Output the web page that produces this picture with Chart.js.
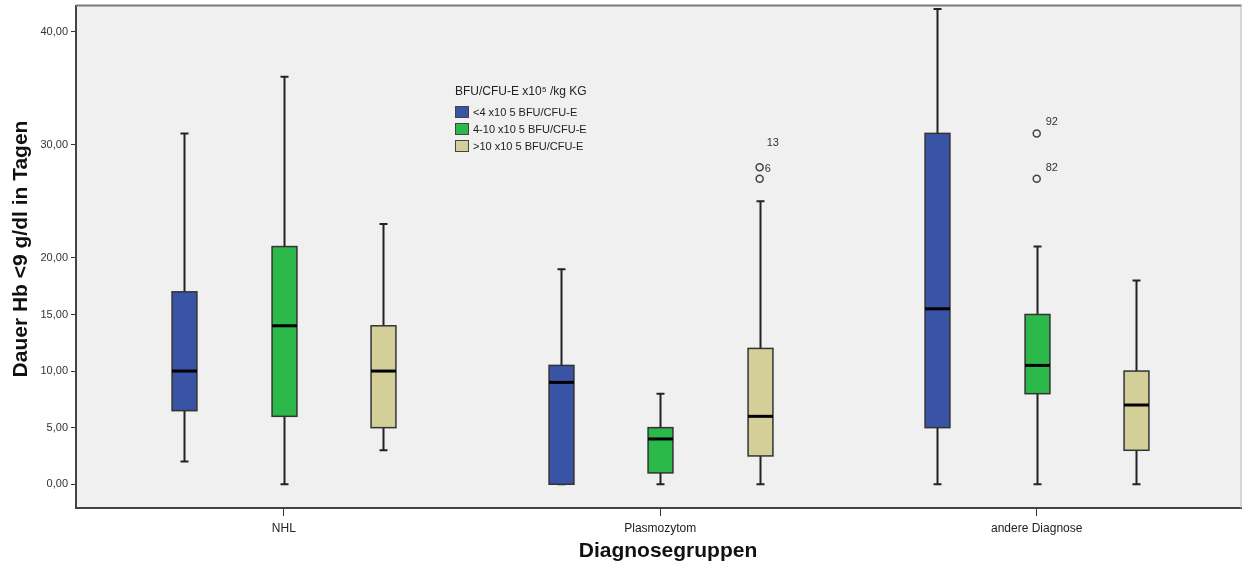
<!DOCTYPE html>
<html><head><meta charset="utf-8">
<script src="https://cdn.jsdelivr.net/npm/chart.js@4/dist/chart.umd.min.js"></script>
<style>html,body{margin:0;padding:0;background:#fff}#wrap{width:1247px;height:566px;position:relative}</style>
</head><body><div id="wrap"><canvas id="c" width="1247" height="566"></canvas></div>
<script>
// ---- data ----
const categories = ['NHL', 'Plasmozytom', 'andere Diagnose'];
const seriesNames = ['<4 x10 5 BFU/CFU-E', '4-10 x10 5 BFU/CFU-E', '>10 x10 5 BFU/CFU-E'];
const legendTitle = 'BFU/CFU-E x10\u2075 /kg KG';
const yTitle = 'Dauer Hb <9 g/dl in Tagen';
const xTitle = 'Diagnosegruppen';
const yTicks = [0, 5, 10, 15, 20, 30, 40];

const blueMin = [2, 0, 0];
const blueQ1  = [6.5, 0, 5];
const blueMed = [10, 9, 15.5];
const blueQ3  = [17, 10.5, 31];
const blueMax = [31, 19, 42];

const greenMin = [0, 0, 0];
const greenQ1  = [6, 1, 8];
const greenMed = [14, 4, 10.5];
const greenQ3  = [21, 5, 15];
const greenMax = [36, 8, 21];

const beigeMin = [3, 0, 0];
const beigeQ1  = [5, 2.5, 3];
const beigeMed = [10, 6, 7];
const beigeQ3  = [14, 12, 10];
const beigeMax = [23, 25, 18];

// outliers: category index, value, case label
const blueOutliers  = [];
const greenOutliers = [{cat: 2, v: 31, label: '92'}, {cat: 2, v: 27, label: '82'}];
const beigeOutliers = [{cat: 1, v: 28, label: '6'}, {cat: 1, v: 27, label: '13'}];

// ---- style ----
const FONT = "'Liberation Sans', Arial, sans-serif";
const colors = ['#3953a5', '#2db84a', '#d4cf98'];
const seriesOffset = [-0.264, 0, 0.264];
const boxW = 0.066;
const labelOffsets = {'92': [9, -11], '82': [9, -11], '6': [5, 2], '13': [7, -36]};

const series = [
  {min: blueMin, q1: blueQ1, med: blueMed, q3: blueQ3, max: blueMax, out: blueOutliers},
  {min: greenMin, q1: greenQ1, med: greenMed, q3: greenQ3, max: greenMax, out: greenOutliers},
  {min: beigeMin, q1: beigeQ1, med: beigeMed, q3: beigeQ3, max: beigeMax, out: beigeOutliers}
];

const boxPlugin = {
  id: 'boxes',
  beforeDraw(chart) {
    const {ctx, chartArea: a} = chart;
    ctx.save();
    ctx.fillStyle = '#f0f0f0';
    ctx.fillRect(a.left, a.top, a.right - a.left, a.bottom - a.top);
    ctx.restore();
  },
  beforeDatasetsDraw(chart) {
    const {ctx, scales: {x, y}} = chart;
    ctx.save();
    const halfW = (x.getPixelForValue(boxW) - x.getPixelForValue(0)) / 2;
    series.forEach((s, si) => {
      categories.forEach((c, ci) => {
        const xc = Math.round(x.getPixelForValue(ci + seriesOffset[si])) + 0.5;
        const pMin = y.getPixelForValue(s.min[ci]);
        const pQ1 = y.getPixelForValue(s.q1[ci]);
        const pMed = y.getPixelForValue(s.med[ci]);
        const pQ3 = y.getPixelForValue(s.q3[ci]);
        const pMax = y.getPixelForValue(s.max[ci]);
        ctx.strokeStyle = '#222';
        ctx.lineWidth = 2;
        ctx.beginPath();
        ctx.moveTo(xc, pQ3); ctx.lineTo(xc, pMax);
        ctx.moveTo(xc, pQ1); ctx.lineTo(xc, pMin);
        ctx.moveTo(xc - 4, pMax); ctx.lineTo(xc + 4, pMax);
        ctx.moveTo(xc - 4, pMin); ctx.lineTo(xc + 4, pMin);
        ctx.stroke();
        ctx.fillStyle = colors[si];
        ctx.fillRect(xc - halfW, pQ3, 2 * halfW, pQ1 - pQ3);
        ctx.lineWidth = 1.5;
        ctx.strokeStyle = '#333';
        ctx.strokeRect(xc - halfW, pQ3, 2 * halfW, pQ1 - pQ3);
        ctx.strokeStyle = '#000';
        ctx.lineWidth = 3;
        ctx.beginPath();
        ctx.moveTo(xc - halfW, pMed); ctx.lineTo(xc + halfW, pMed);
        ctx.stroke();
      });
    });
    ctx.restore();
  },
  afterDraw(chart) {
    const {ctx, chartArea: a, scales: {x, y}} = chart;
    ctx.save();
    ctx.strokeStyle = '#7a7a7a'; ctx.lineWidth = 2;
    ctx.beginPath(); ctx.moveTo(a.left, a.top); ctx.lineTo(a.right, a.top); ctx.stroke();
    ctx.strokeStyle = '#b8b8b8'; ctx.lineWidth = 1;
    ctx.beginPath(); ctx.moveTo(a.right - 0.5, a.top); ctx.lineTo(a.right - 0.5, a.bottom); ctx.stroke();
    // outlier labels
    ctx.fillStyle = '#333';
    ctx.font = '11px ' + FONT;
    ctx.textBaseline = 'middle';
    series.forEach((s, si) => {
      s.out.forEach(o => {
        const px = x.getPixelForValue(o.cat + seriesOffset[si]);
        const py = y.getPixelForValue(o.v);
        const off = labelOffsets[o.label] || [8, -6];
        ctx.fillText(o.label, px + off[0], py + off[1]);
      });
    });
    // legend
    const lx = 455, ly = 92;
    ctx.fillStyle = '#222';
    ctx.font = '12px ' + FONT;
    ctx.fillText(legendTitle, lx, ly);
    ctx.font = '11px ' + FONT;
    seriesNames.forEach((n, i) => {
      const yy = ly + 20 + i * 17;
      ctx.fillStyle = colors[i];
      ctx.fillRect(lx, yy - 6, 14, 12);
      ctx.strokeStyle = '#444'; ctx.lineWidth = 1;
      ctx.strokeRect(lx + 0.5, yy - 5.5, 13, 11);
      ctx.fillStyle = '#222';
      ctx.fillText(n, lx + 18, yy + 1);
    });
    // axis titles
    ctx.fillStyle = '#111';
    ctx.font = 'bold 21px ' + FONT;
    ctx.textAlign = 'center';
    ctx.fillText(xTitle, 668, 551);
    ctx.translate(21, 249);
    ctx.rotate(-Math.PI / 2);
    ctx.fillText(yTitle, 0, 0);
    ctx.restore();
  }
};

const datasets = series.map((s, si) => ({
  label: seriesNames[si],
  data: s.out.map(o => ({x: o.cat + seriesOffset[si], y: o.v})),
  pointStyle: 'circle',
  pointRadius: 3.5,
  pointBorderWidth: 1.5,
  pointBorderColor: '#444',
  pointBackgroundColor: 'rgba(0,0,0,0)',
  showLine: false
}));

new Chart(document.getElementById('c'), {
  type: 'scatter',
  data: {datasets},
  options: {
    responsive: false,
    animation: false,
    layout: {padding: {top: 5, right: 1, left: 0, bottom: 0}},
    plugins: {legend: {display: false}, tooltip: {enabled: false}},
    scales: {
      x: {
        type: 'linear',
        min: -0.552, max: 2.544,
        afterBuildTicks: sc => { sc.ticks = categories.map((c, i) => ({value: i})); },
        afterFit: sc => { sc.height = 58; sc.paddingLeft = 0; sc.paddingRight = 0; },
        ticks: {
          callback: v => categories[v],
          color: '#222', padding: 5,
          font: {family: FONT, size: 12},
          maxRotation: 0, autoSkip: false
        },
        grid: {drawOnChartArea: false, tickLength: 8, color: '#333', tickWidth: 1},
        border: {display: true, color: '#444', width: 2},
        title: {display: false}
      },
      y: {
        type: 'linear',
        min: -2.1, max: 42.3,
        afterBuildTicks: sc => { sc.ticks = yTicks.map(v => ({value: v})); },
        afterFit: sc => { sc.width = 76; sc.paddingTop = 0; sc.paddingBottom = 0; },
        ticks: {
          callback: v => v.toFixed(2).replace('.', ','),
          color: '#333', padding: 3,
          font: {family: FONT, size: 11}
        },
        grid: {drawOnChartArea: false, tickLength: 5, color: '#333', tickWidth: 1},
        border: {display: true, color: '#444', width: 2},
        title: {display: false}
      }
    }
  },
  plugins: [boxPlugin]
});
</script>
</body></html>
